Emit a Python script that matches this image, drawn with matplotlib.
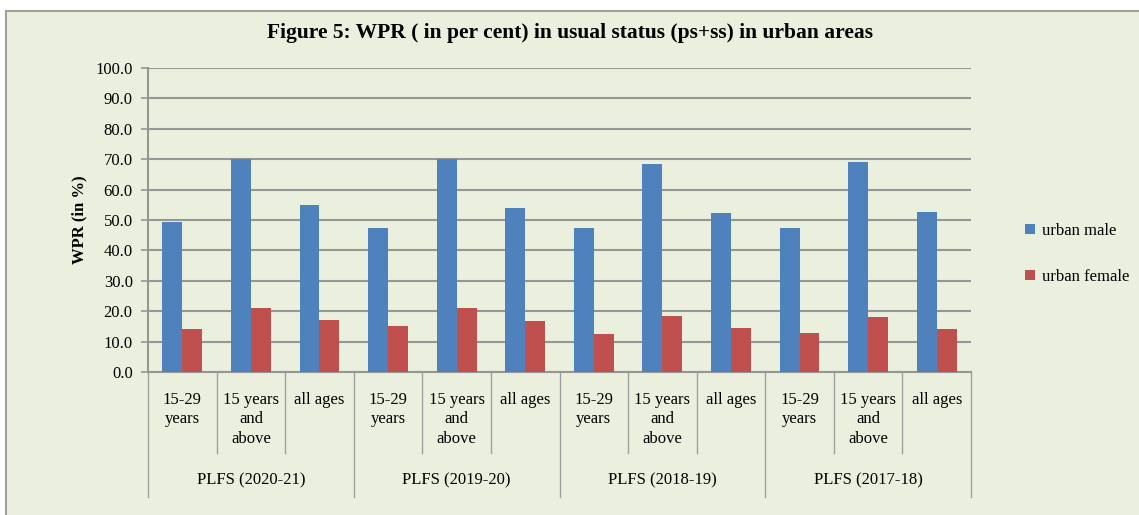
import matplotlib
matplotlib.use("Agg")
import matplotlib.pyplot as plt
from matplotlib.patches import Rectangle

# WPR (%) in usual status (ps+ss), urban areas
surveys = ["PLFS (2020-21)", "PLFS (2019-20)", "PLFS (2018-19)", "PLFS (2017-18)"]
age_groups = ["15-29\nyears", "15 years\nand\nabove", "all ages"]
urban_male = [49.3, 70.1, 54.9,
              47.4, 70.0, 53.9,
              47.4, 68.4, 52.3,
              47.3, 69.1, 52.6]
urban_female = [14.1, 21.0, 17.1,
                15.1, 21.0, 16.8,
                12.5, 18.4, 14.5,
                12.8, 18.1, 14.1]

BG = "#EBF0DE"
GRID = "#969696"
W, H = 1139, 515

plt.rcParams["font.family"] = ["Liberation Serif", "DejaVu Serif"]

fig = plt.figure(figsize=(W / 100, H / 100), dpi=100, facecolor="white")
# chart area background, only its top and left edges fall inside the image
fig.patches.append(Rectangle((6 / W, -0.05), 1.1, 1.05 - 10.5 / H,
                             transform=fig.transFigure, facecolor=BG,
                             edgecolor="#A0A0A0", lw=1.5, zorder=-10))

x0, x1, ytop, ybot = 148, 971, 68, 372
ax = fig.add_axes([x0 / W, (H - ybot) / H, (x1 - x0) / W, (ybot - ytop) / H])
ax.set_facecolor("none")

n = len(urban_male)
xs = list(range(n))
bw = 0.29
ax.bar([x - bw / 2 for x in xs], urban_male, bw, color="#4F81BD", label="urban male", zorder=3)
ax.bar([x + bw / 2 for x in xs], urban_female, bw, color="#C0504D", label="urban female", zorder=3)

ax.set_xlim(-0.5, n - 0.5)
ax.set_ylim(0, 100)
ax.set_yticks(range(0, 101, 10))
ax.set_yticklabels([f"{v:.1f}" for v in range(0, 101, 10)], fontsize=12)
ax.tick_params(axis="y", length=5, color=GRID, width=1.2, pad=6)
ax.set_xticks([])
ax.yaxis.grid(True, color=GRID, lw=1.5, zorder=1)
ax.set_axisbelow(True)
for s in ("top", "right"):
    ax.spines[s].set_visible(False)
for s in ("left", "bottom"):
    ax.spines[s].set_color(GRID)
    ax.spines[s].set_linewidth(1.5)
ax.set_ylabel("WPR (in %)", fontsize=12, fontweight="bold", labelpad=6)

# two-level category axis
tr = ax.get_xaxis_transform()
ph = ybot - ytop
sub_bottom = -(453 - ybot) / ph
grp_bottom = -(497 - ybot) / ph
for i in range(n + 1):
    yb = grp_bottom if i % 3 == 0 else sub_bottom
    ax.plot([i - 0.5, i - 0.5], [0, yb], transform=tr, color="#A0A0A0",
            lw=1.0, clip_on=False)
for i in range(n):
    ax.text(i, -(392 - ybot) / ph, age_groups[i % 3], transform=tr,
            ha="center", va="top", fontsize=12, linespacing=1.28)
for g, name in enumerate(surveys):
    ax.text(g * 3 + 1, -(480 - ybot) / ph, name, transform=tr,
            ha="center", va="center", fontsize=12)

fig.text(570 / W, 1 - 33 / H,
         "Figure 5: WPR ( in per cent) in usual status (ps+ss) in urban areas",
         ha="center", va="center", fontsize=15.5, fontweight="bold")

fig.legend(loc="center left", bbox_to_anchor=(1010 / W, 1 - 254 / H),
           frameon=False, fontsize=12, handlelength=0.6, handleheight=0.6,
           handletextpad=0.4, labelspacing=1.8)

fig.savefig("out.png", dpi=100, facecolor="white")
